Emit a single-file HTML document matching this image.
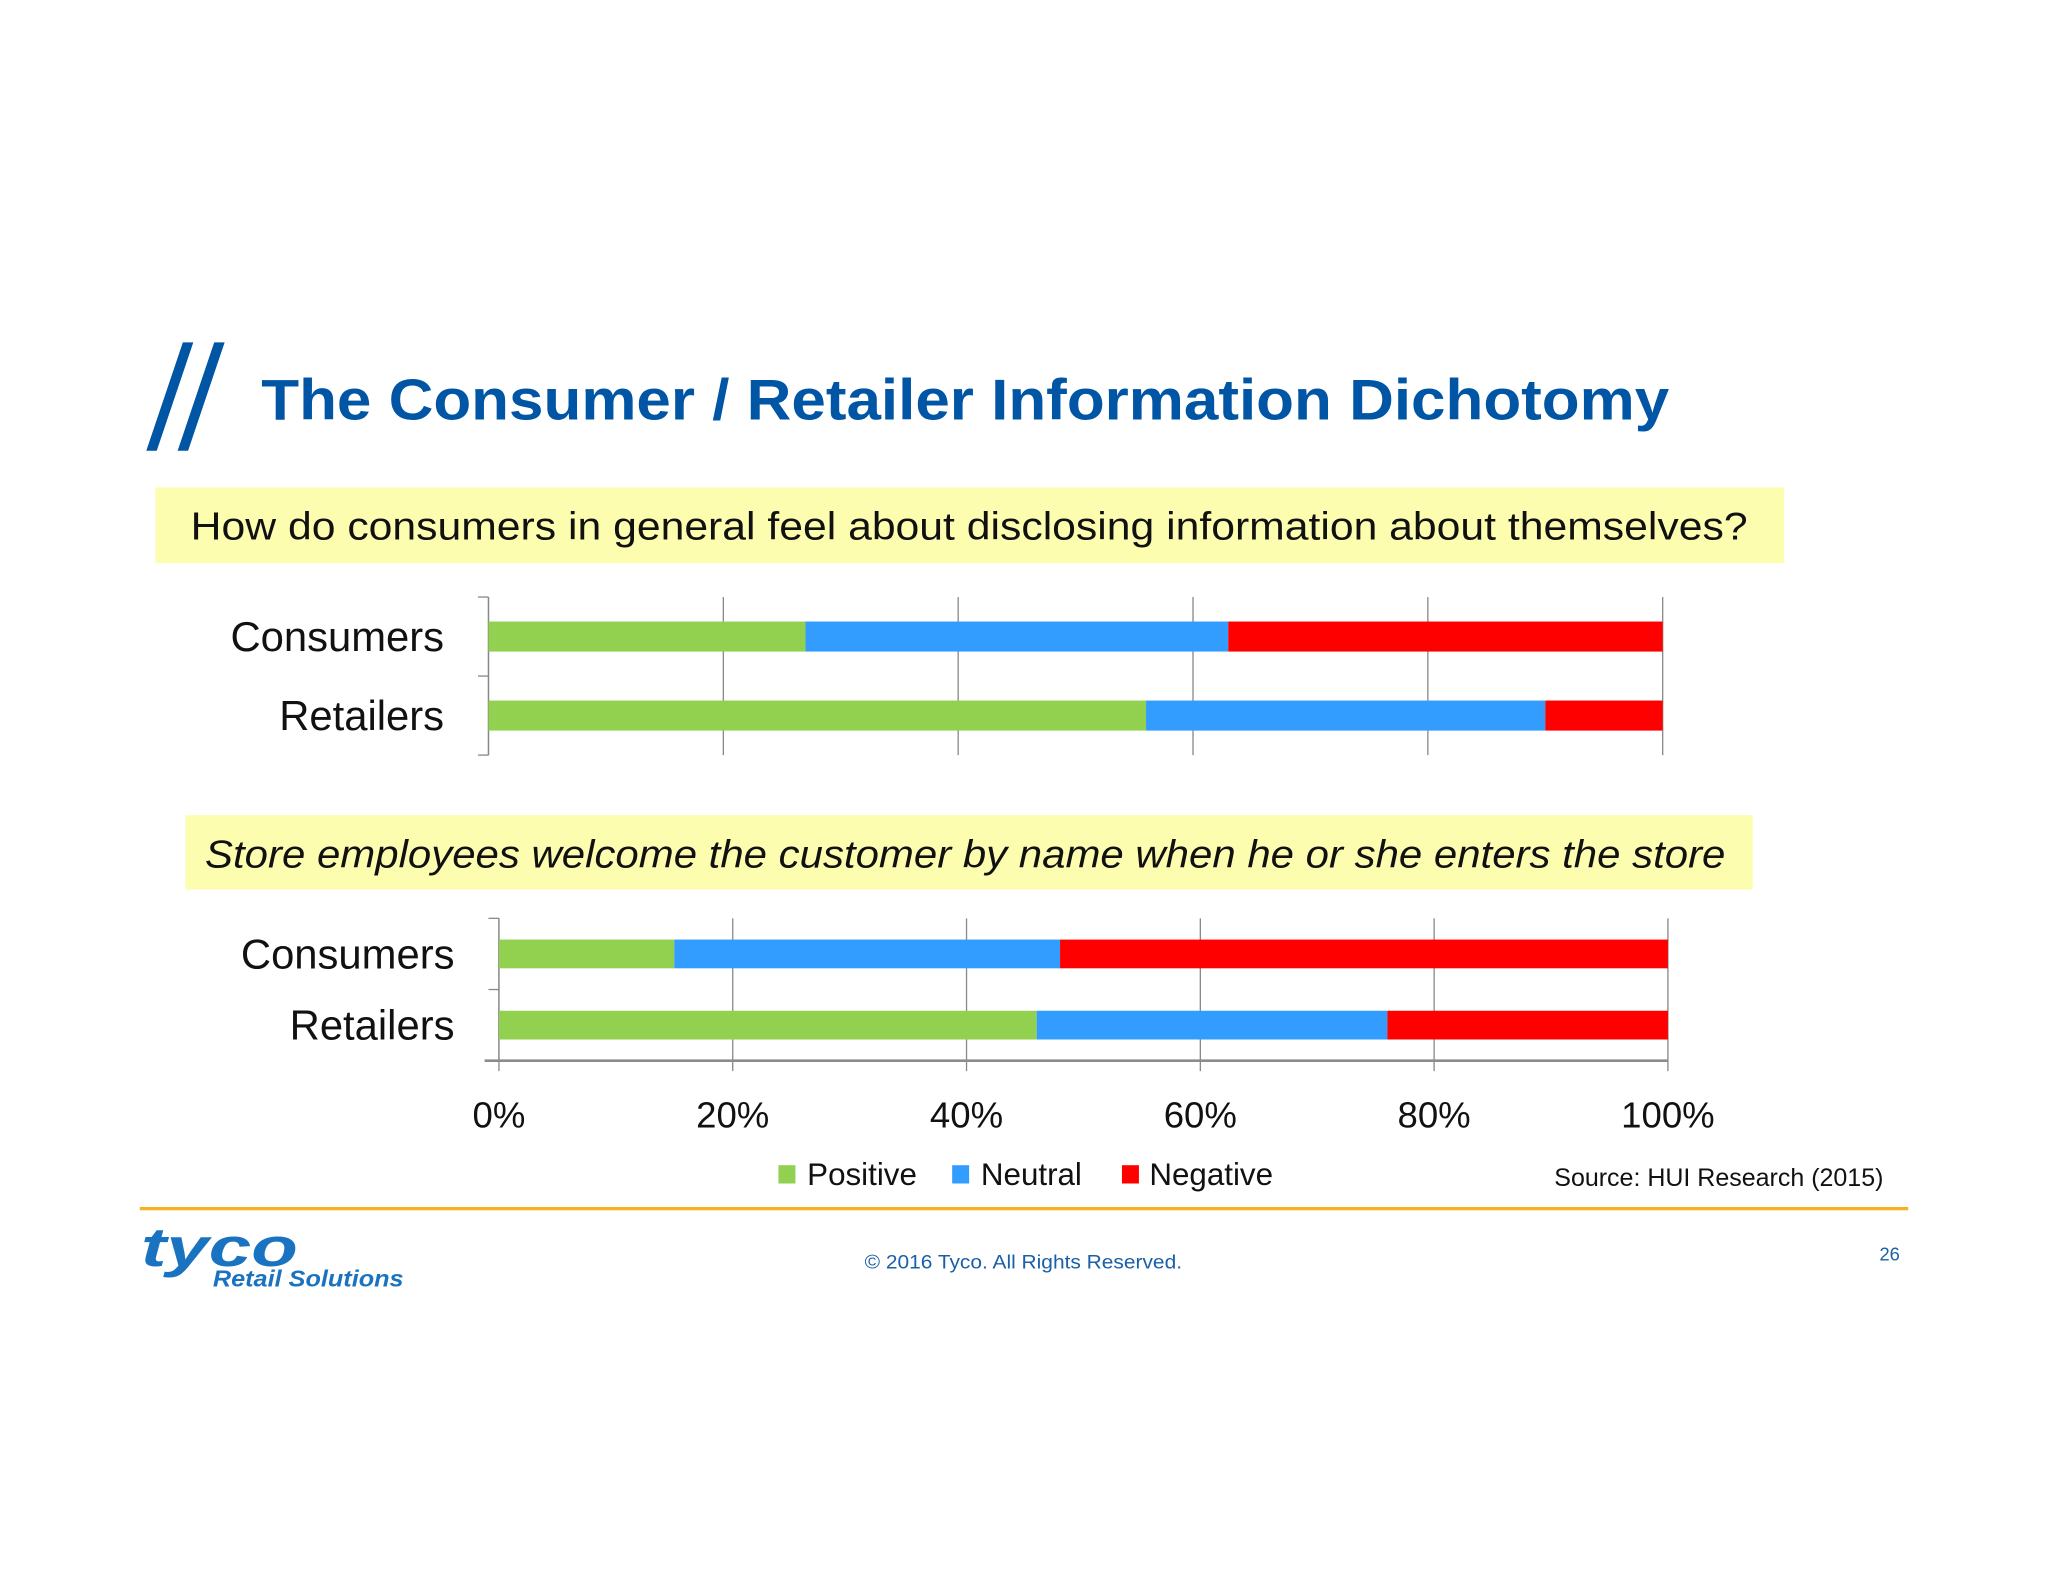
<!DOCTYPE html>
<html><head><meta charset="utf-8"><style>
html,body{margin:0;padding:0;background:#fff;}
svg{display:block;}
text{font-family:"Liberation Sans",sans-serif;}
</style></head><body>
<svg id="slide" width="2048" height="1582" viewBox="0 0 1568 1211" xmlns="http://www.w3.org/2000/svg">
<rect width="1568" height="1211" fill="#fff"/>
<g fill="#0055a5">
<polygon points="140,262 148,262 120,345 112,345"/>
<polygon points="164,262 172,262 144,345 136,345"/>
</g>
<text x="200" y="321" font-size="44" font-weight="bold" fill="#0055a5" textLength="1078" lengthAdjust="spacingAndGlyphs">The Consumer / Retailer Information Dichotomy</text>

<rect x="119" y="373" width="1247" height="58" fill="#fdfdb0"/>
<text x="146" y="413" font-size="30" fill="#111" textLength="1192" lengthAdjust="spacingAndGlyphs">How do consumers in general feel about disclosing information about themselves?</text>

<rect x="142" y="624" width="1200" height="57" fill="#fdfdb0"/>
<text x="157" y="664" font-size="30" font-style="italic" fill="#111" textLength="1164" lengthAdjust="spacingAndGlyphs">Store employees welcome the customer by name when he or she enters the store</text>

<g id="chart1"></g>
<g id="chart2"></g>
<g id="ticks"></g>

<g font-size="24" fill="#111">
<rect x="596" y="892" width="13" height="14" fill="#92d050"/>
<text x="618" y="907">Positive</text>
<rect x="729" y="892" width="13" height="14" fill="#339cff"/>
<text x="751" y="907">Neutral</text>
<rect x="859" y="892" width="13" height="14" fill="#ff0000"/>
<text x="880" y="907">Negative</text>
</g>
<text x="1190" y="908" font-size="19" fill="#111" textLength="252" lengthAdjust="spacingAndGlyphs">Source: HUI Research (2015)</text>

<rect x="107" y="924" width="1354" height="2.5" fill="#f5b223"/>
<text x="108" y="969" font-size="42" font-weight="bold" font-style="italic" fill="#1a73c0" textLength="120" lengthAdjust="spacingAndGlyphs">tyco</text>
<text x="163" y="985" font-size="18" font-weight="bold" font-style="italic" fill="#1a73c0" textLength="146" lengthAdjust="spacingAndGlyphs">Retail Solutions</text>
<text x="662" y="971" font-size="15" fill="#1a5fa8" textLength="243" lengthAdjust="spacingAndGlyphs">© 2016 Tyco. All Rights Reserved.</text>
<text x="1439" y="965" font-size="14" fill="#1a5fa8">26</text>
</svg>
<script>
const categories = ["Consumers", "Retailers"];
const seriesNames = ["Positive", "Neutral", "Negative"];
const colors = ["#92d050", "#339cff", "#ff0000"];
const chart1Positive = [27, 56];
const chart1Neutral = [36, 34];
const chart1Negative = [37, 10];
const chart2Positive = [15, 46];
const chart2Neutral = [33, 30];
const chart2Negative = [52, 24];
const tickValues = [0, 20, 40, 60, 80, 100];
const tickLabels = ["0%", "20%", "40%", "60%", "80%", "100%"];

const NS = "http://www.w3.org/2000/svg";
function mk(tag, attrs, parent) {
  const e = document.createElementNS(NS, tag);
  for (const k in attrs) e.setAttribute(k, attrs[k]);
  parent.appendChild(e);
  return e;
}
function drawChart(g, cfg, series) {
  const x = v => cfg.x0 + (cfg.x1 - cfg.x0) * v / 100;
  tickValues.forEach(t => {
    const l = mk("line", {x1: x(t), x2: x(t), y1: cfg.top, y2: cfg.gridBottom, stroke: "#888", "stroke-width": 1}, g);
    
    
  });
  const ax = mk("line", {x1: cfg.x0, x2: cfg.x0, y1: cfg.top, y2: cfg.bottom, stroke: "#888", "stroke-width": 1}, g);
  
  
  const n = categories.length;
  const band = (cfg.bottom - cfg.top) / n;
  for (let i = 0; i <= n; i++) {
    const tk = mk("line", {x1: cfg.x0 - 8, x2: cfg.x0, y1: cfg.top + band * i, y2: cfg.top + band * i, stroke: "#888", "stroke-width": 1}, g);
    
    
  }
  if (cfg.hAxis) {
    const h = mk("line", {x1: cfg.x0 - 11, x2: cfg.x1, y1: cfg.bottom, y2: cfg.bottom, stroke: "#8c8c8c", "stroke-width": 2}, g);
    
    
  }
  categories.forEach((c, i) => {
    const cy = cfg.top + band * (i + 0.5);
    let acc = 0;
    series.forEach((s, k) => {
      const r = mk("rect", {x: x(acc), y: cy - cfg.barH / 2, width: x(acc + s[i]) - x(acc), height: cfg.barH, fill: colors[k]}, g);
      
      
      acc += s[i];
    });
    const t = mk("text", {x: cfg.labelX, y: cy + 11, "font-size": 32, "text-anchor": "end", fill: "#111"}, g);
    t.textContent = c;
    
    
  });
  return x;
}
drawChart(document.getElementById("chart1"), {x0: 374, x1: 1273, top: 457, bottom: 578, gridBottom: 578, barH: 23, labelX: 340, hAxis: false}, [chart1Positive, chart1Neutral, chart1Negative]);
const x2 = drawChart(document.getElementById("chart2"), {x0: 382, x1: 1277, top: 703, bottom: 812, gridBottom: 820, barH: 22, labelX: 348, hAxis: true}, [chart2Positive, chart2Neutral, chart2Negative]);
const tg = document.getElementById("ticks");
tickValues.forEach((v, i) => {
  const t = mk("text", {x: x2(v), y: 863, "font-size": 28, "text-anchor": "middle", fill: "#111"}, tg);
  t.textContent = tickLabels[i];
  
  
});
</script>
</body></html>
